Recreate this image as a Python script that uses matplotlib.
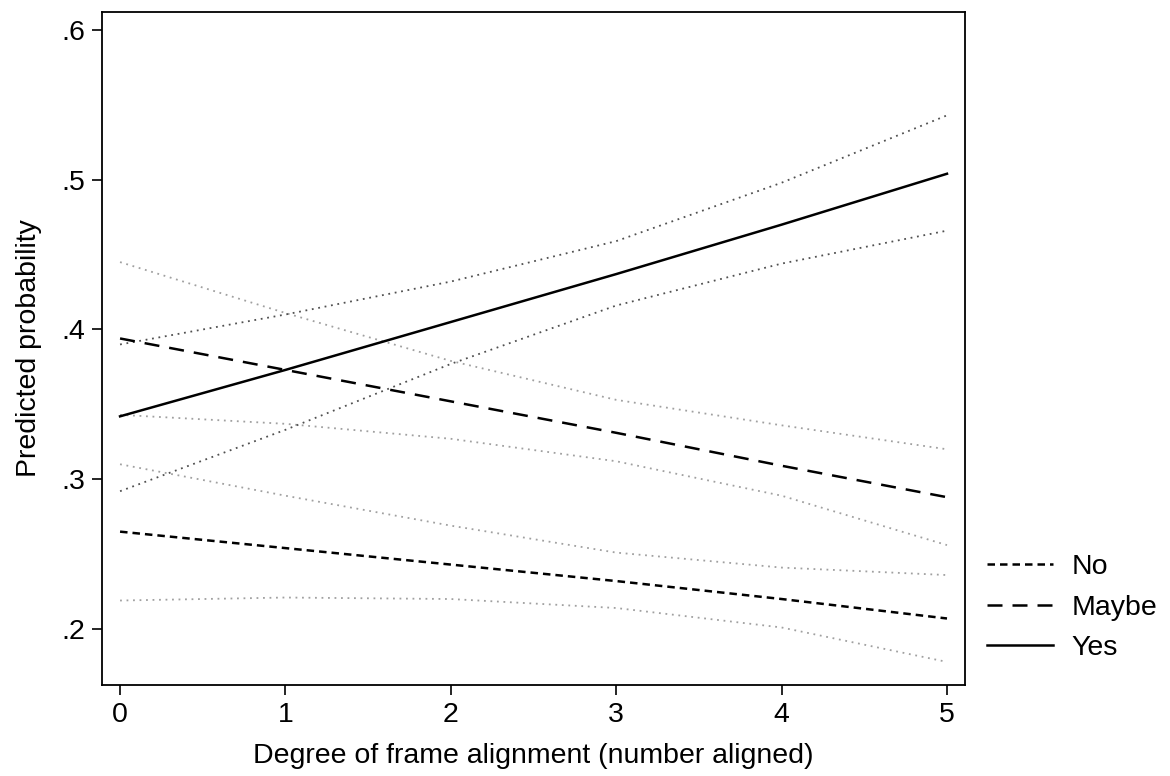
import matplotlib
matplotlib.use("Agg")
import matplotlib.pyplot as plt

plt.rcParams['font.family'] = ['Liberation Sans', 'DejaVu Sans']

# x positions (number aligned)
alignment = [0, 1, 2, 3, 4, 5]

# predicted probabilities
p_no = [0.265, 0.254, 0.243, 0.232, 0.220, 0.207]
p_maybe = [0.394, 0.373, 0.352, 0.331, 0.309, 0.288]
p_yes = [0.342, 0.373, 0.405, 0.437, 0.470, 0.504]

# confidence bounds
no_hi = [0.310, 0.289, 0.269, 0.251, 0.241, 0.236]
no_lo = [0.219, 0.221, 0.220, 0.214, 0.201, 0.178]
maybe_hi = [0.445, 0.411, 0.379, 0.353, 0.336, 0.320]
maybe_lo = [0.343, 0.337, 0.327, 0.312, 0.289, 0.256]
yes_hi = [0.390, 0.410, 0.432, 0.459, 0.498, 0.543]
yes_lo = [0.292, 0.333, 0.377, 0.416, 0.444, 0.466]

yticks = [0.2, 0.3, 0.4, 0.5, 0.6]
ytick_labels = ['.2', '.3', '.4', '.5', '.6']

fig = plt.figure(figsize=(11.7, 7.76), dpi=100)
ax = fig.add_axes([0.0872, 0.1173, 0.7376, 0.8672])

# CI lines
for lo, hi, col in [(no_lo, no_hi, '#a0a0a0'), (maybe_lo, maybe_hi, '#a0a0a0'),
                    (yes_lo, yes_hi, '#505050')]:
    for s in (lo, hi):
        ax.plot(alignment, s, color=col, lw=1.3, dashes=(1, 2.6))

ax.plot(alignment, p_no, color='black', lw=1.8, dashes=(3, 2), label='No')
ax.plot(alignment, p_maybe, color='black', lw=1.8, dashes=(6, 4), label='Maybe')
ax.plot(alignment, p_yes, color='black', lw=1.8, label='Yes')

ax.set_xlim(-0.109, 5.109)
ax.set_ylim(0.1626, 0.612)
ax.set_xticks(alignment)
ax.set_yticks(yticks)
ax.set_yticklabels(ytick_labels)
ax.tick_params(axis='both', labelsize=20.5, length=7, width=1.2, direction='out', pad=5)
ax.tick_params(top=False, right=False)
for sp in ax.spines.values():
    sp.set_linewidth(1.3)

ax.set_xlabel('Degree of frame alignment (number aligned)', fontsize=20.5, labelpad=11)
ax.set_ylabel('Predicted probability', fontsize=20.5, labelpad=14)

ax.legend(loc='center left', bbox_to_anchor=(0.844, 0.217), bbox_transform=fig.transFigure,
          frameon=False, fontsize=20.5, handlelength=2.3, labelspacing=0.5,
          handletextpad=0.65, borderaxespad=0, borderpad=0)

fig.savefig('out.png', dpi=100, facecolor='white')
